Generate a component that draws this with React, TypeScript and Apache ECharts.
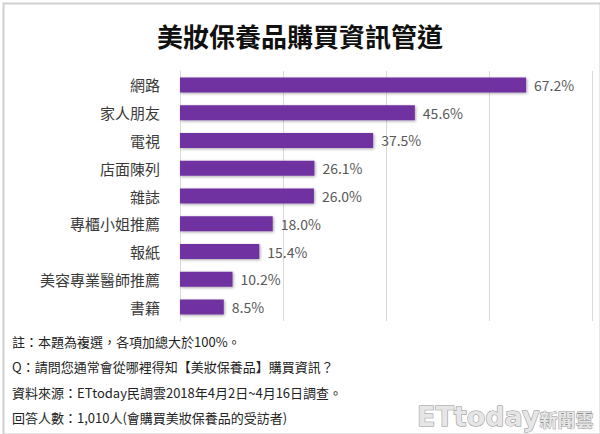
import React, { useEffect, useRef } from "react";
import * as echarts from "echarts";

const categories = ["網路", "家人朋友", "電視", "店面陳列", "雜誌", "專櫃小姐推薦", "報紙", "美容專業醫師推薦", "書籍"];
const values = [67.2, 45.6, 37.5, 26.1, 26.0, 18.0, 15.4, 10.2, 8.5];
const titleText = "美妝保養品購買資訊管道";
const notes = [
  "註：本題為複選，各項加總大於100%。",
  "Q：請問您通常會從哪裡得知【美妝保養品】購買資訊？",
  "資料來源：ETtoday民調雲2018年4月2日~4月16日調查。",
  "回答人數：1,010人(會購買美妝保養品的受訪者)",
];

const FONT = "'Noto Sans CJK TC', 'Noto Sans', sans-serif";

export default function App() {
  const ref = useRef<HTMLDivElement>(null);
  useEffect(() => {
    if (!ref.current) return;
    const chart = echarts.init(ref.current, undefined, { renderer: "svg" });
    chart.setOption({
      animation: false,
      backgroundColor: "#ffffff",
      title: {
        text: titleText,
        left: "center",
        top: 17,
        textStyle: { fontFamily: FONT, fontSize: 26, fontWeight: "bold", color: "#111" },
      },
      grid: { left: 180, right: 8, top: 71, bottom: 113, containLabel: false },
      xAxis: {
        type: "value",
        min: 0,
        max: 80,
        interval: 20,
        axisLabel: { show: false },
        axisLine: { show: false },
        axisTick: { show: false },
        splitLine: { show: true, lineStyle: { color: "#d9d9d9", width: 1 } },
      },
      yAxis: {
        type: "category",
        data: categories,
        inverse: true,
        axisLine: { show: true, lineStyle: { color: "#d9d9d9" } },
        axisTick: { show: false },
        axisLabel: { fontFamily: FONT, fontSize: 15, color: "#3a3a3a", margin: 20 },
      },
      series: [
        {
          type: "bar",
          data: values,
          barWidth: 15,
          itemStyle: {
            color: "#7030A0",
            shadowColor: "rgba(0,0,0,0.35)",
            shadowBlur: 3,
            shadowOffsetX: 1,
            shadowOffsetY: 1,
          },
          label: {
            show: true,
            position: "right",
            distance: 8,
            formatter: (p: any) => p.value.toFixed(1) + "%",
            fontFamily: FONT,
            fontSize: 14,
            color: "#595959",
          },
        },
      ],
      graphic: [
        {
          type: "rect",
          left: 1,
          top: 1,
          shape: { width: 597, height: 431 },
          style: { fill: "none", stroke: "#cfcfcf", lineWidth: 2 },
          silent: true,
        },
        ...notes.map((t, i) => ({
          type: "text",
          left: 12,
          top: 335 + i * 25.3,
          style: { text: t, fontFamily: FONT, fontSize: 13, fill: "#222" },
        })),
        {
          type: "text",
          right: 6,
          top: 402,
          style: {
            text: "{a|ETtoday}{b|新聞雲}",
            rich: {
              a: { fontFamily: "'DejaVu Sans', sans-serif", fontSize: 27, fontWeight: "bold", fill: "#e6e6e6", stroke: "#8a8a8a", lineWidth: 1 },
              b: { fontFamily: FONT, fontSize: 18, fontWeight: "bold", fill: "#e6e6e6", stroke: "#8a8a8a", lineWidth: 0.8, padding: [6, 0, 0, 0] },
            },
          },
        },
      ],
    });
    return () => chart.dispose();
  }, []);
  return <div ref={ref} style={{ position: "fixed", left: 0, top: 0, width: 600, height: 434 }} />;
}
